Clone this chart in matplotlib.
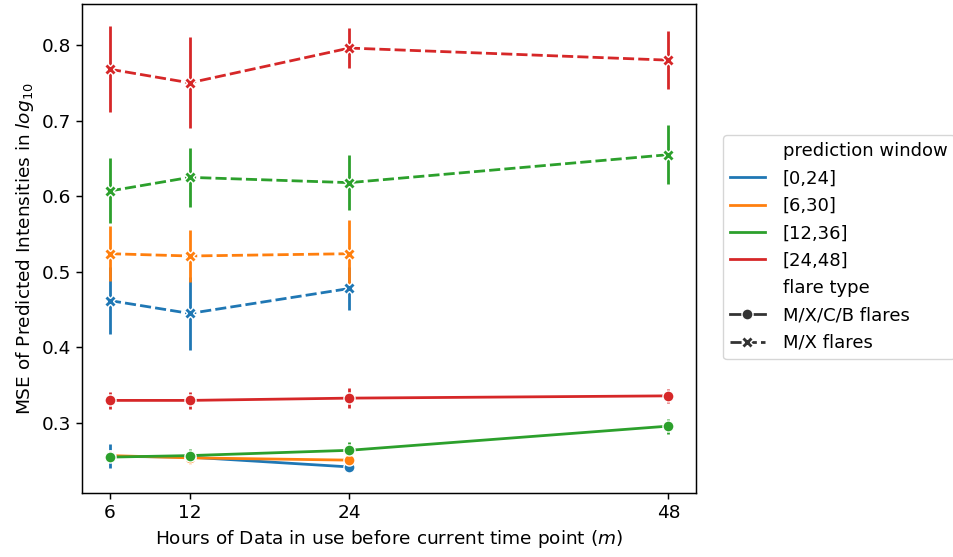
import matplotlib
matplotlib.use("Agg")
import matplotlib.pyplot as plt
from matplotlib.lines import Line2D

hours = [6, 12, 24, 48]
windows = ["[0,24]", "[6,30]", "[12,36]", "[24,48]"]
colors = ["#1f77b4", "#ff7f0e", "#2ca02c", "#d62728"]

# M/X/C/B flares (solid, circle markers)
all_mean = [
    [0.256, 0.255, 0.242],
    [0.257, 0.254, 0.251],
    [0.255, 0.257, 0.264, 0.296],
    [0.330, 0.330, 0.333, 0.336],
]
all_err = [
    [0.016, 0.006, 0.005],
    [0.006, 0.008, 0.005],
    [0.006, 0.009, 0.011, 0.010],
    [0.011, 0.011, 0.013, 0.009],
]

# M/X flares (dashed, x markers)
mx_mean = [
    [0.462, 0.445, 0.478],
    [0.524, 0.521, 0.524],
    [0.607, 0.625, 0.618, 0.655],
    [0.768, 0.750, 0.796, 0.780],
]
mx_err = [
    [0.044, 0.048, 0.029],
    [0.036, 0.034, 0.044],
    [0.043, 0.039, 0.036, 0.039],
    [0.057, 0.060, 0.027, 0.038],
]

s = 1.33  # reference looks like a 1.33x upscaled default figure
plt.rcParams.update({
    "font.size": 10 * s,
    "axes.linewidth": 0.8 * s,
    "xtick.major.size": 3.5 * s,
    "ytick.major.size": 3.5 * s,
    "xtick.major.width": 0.8 * s,
    "ytick.major.width": 0.8 * s,
})
lw = 1.5 * s
ms = 6 * s

fig = plt.figure(figsize=(9.54, 5.57), dpi=100)
ax = fig.add_axes([0.086, 0.115, 0.644, 0.878])

dash = (4, 1.5)
for i, c in enumerate(colors):
    for means, errs, marker, dashed in [(all_mean[i], all_err[i], "o", False),
                                        (mx_mean[i], mx_err[i], "X", True)]:
        x = hours[:len(means)]
        ax.errorbar(x, means, yerr=errs, linestyle="", color=c, elinewidth=lw,
                    capsize=0, zorder=1.5)
        ln, = ax.plot(x, means, color=c, lw=lw, marker=marker, markersize=ms,
                      markeredgecolor="white", markeredgewidth=0.75 * s, zorder=2)
        if dashed:
            ln.set_dashes(dash)

ax.set_xticks(hours)
ax.set_xlabel("Hours of Data in use before current time point ($m$)")
ax.set_ylabel("MSE of Predicted Intensities in $log_{10}$")

handles = [Line2D([], [], linestyle="", label="prediction window")]
for c, w in zip(colors, windows):
    handles.append(Line2D([], [], color=c, lw=lw, label=w))
handles.append(Line2D([], [], linestyle="", label="flare type"))
handles.append(Line2D([], [], color=".2", lw=lw, marker="o", markersize=ms,
                      markeredgecolor="white", markeredgewidth=0.75 * s,
                      label="M/X/C/B flares"))
h2 = Line2D([], [], color=".2", lw=lw, marker="X", markersize=ms,
            markeredgecolor="white", markeredgewidth=0.75 * s, label="M/X flares")
h2.set_dashes(dash)
handles.append(h2)

fig.legend(handles=handles, loc="upper left", fontsize=13, handlelength=1.9,
           handletextpad=1.0, labelspacing=0.52,
           bbox_to_anchor=(714 / 954, 1 - 126 / 557))

fig.savefig("out.png", dpi=100)
